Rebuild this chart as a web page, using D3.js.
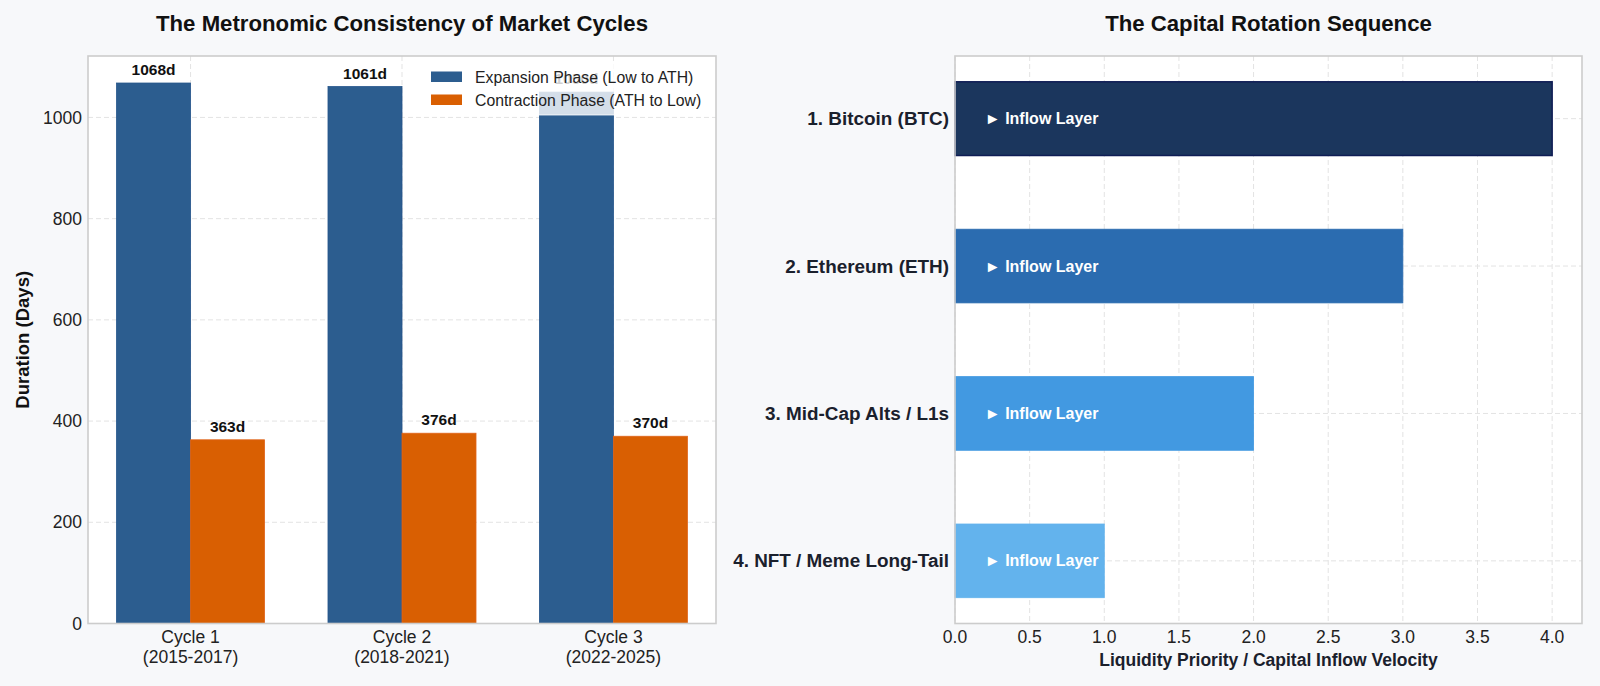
<!DOCTYPE html>
<html>
<head>
<meta charset="utf-8">
<script src="https://cdn.jsdelivr.net/npm/d3@7"></script>
<style>
  body { margin: 0; background: #f7f8fa; }
  svg { display: block; font-family: "Liberation Sans", Arial, sans-serif; }
  .grid line { stroke: #e3e3e3; stroke-dasharray: 5,3; stroke-width: 1; }
  .tick-lbl { font-size: 17.5px; fill: #222; }
</style>
</head>
<body>
<div id="svg-container"></div>
<script>
// ---------------- data ----------------
const cycles = ["Cycle 1\n(2015-2017)", "Cycle 2\n(2018-2021)", "Cycle 3\n(2022-2025)"];
const expansionDays = [1068, 1061, 1050];
const contractionDays = [363, 376, 370];
const yTicksLeft = [0, 200, 400, 600, 800, 1000];

const layers = ["1. Bitcoin (BTC)", "2. Ethereum (ETH)", "3. Mid-Cap Alts / L1s", "4. NFT / Meme Long-Tail"];
const inflowPriority = [4, 3, 2, 1];
const layerColors = ["#1b365d", "#2b6cb0", "#4299e1", "#63b3ed"];
const xTicksRight = [0, 0.5, 1, 1.5, 2, 2.5, 3, 3.5, 4];

const width = 1600, height = 686;
const svg = d3.select("#svg-container").append("svg")
  .attr("width", width).attr("height", height);

svg.append("rect").attr("width", width).attr("height", height).attr("fill", "#f7f8fa");

////////////////////////////////////////////////////////////////////
///////////////////////////  Left chart  ///////////////////////////
const L = { left: 88, right: 716, top: 56, bottom: 623.5 };
const barW = 0.35;

const xL = d3.scaleLinear().domain([-0.485, 2.485]).range([L.left, L.right]);
const yL = d3.scaleLinear().domain([0, 1068 * 1.05]).range([L.bottom, L.top]);

const gL = svg.append("g");
gL.append("rect")
  .attr("x", L.left).attr("y", L.top)
  .attr("width", L.right - L.left).attr("height", L.bottom - L.top)
  .attr("fill", "#fff");

// grid
const gridL = gL.append("g").attr("class", "grid");
gridL.selectAll(".h").data(yTicksLeft).enter().append("line")
  .attr("x1", L.left).attr("x2", L.right)
  .attr("y1", (d) => yL(d)).attr("y2", (d) => yL(d));
gridL.selectAll(".v").data(cycles).enter().append("line")
  .attr("x1", (d, i) => xL(i)).attr("x2", (d, i) => xL(i))
  .attr("y1", L.top).attr("y2", L.bottom);

// bars
gL.selectAll(".exp").data(expansionDays).enter().append("rect")
  .attr("x", (d, i) => xL(i - barW))
  .attr("y", (d) => yL(d))
  .attr("width", xL(barW) - xL(0))
  .attr("height", (d) => yL(0) - yL(d))
  .attr("fill", "#2c5d8f")
  .attr("stroke", "#24548a").attr("stroke-width", 0.8);

gL.selectAll(".con").data(contractionDays).enter().append("rect")
  .attr("x", (d, i) => xL(i))
  .attr("y", (d) => yL(d))
  .attr("width", xL(barW) - xL(0))
  .attr("height", (d) => yL(0) - yL(d))
  .attr("fill", "#d95f02")
  .attr("stroke", "#e0641a").attr("stroke-width", 0.8);

// value labels
const valLbl = (vals, off) => gL.selectAll(null).data(vals).enter().append("text")
  .attr("x", (d, i) => xL(i + off))
  .attr("y", (d) => yL(d) - 8)
  .attr("text-anchor", "middle")
  .style("font-size", "15.5px").style("font-weight", "bold").style("fill", "#111")
  .text((d) => d + "d");
valLbl(expansionDays, -barW / 2);
valLbl(contractionDays, barW / 2);

// axes frame
gL.append("rect")
  .attr("x", L.left).attr("y", L.top)
  .attr("width", L.right - L.left).attr("height", L.bottom - L.top)
  .attr("fill", "none").attr("stroke", "#cccccc").attr("stroke-width", 1.6);

// y ticks
gL.selectAll(".yt").data(yTicksLeft).enter().append("text")
  .attr("class", "tick-lbl")
  .attr("x", L.left - 6).attr("y", (d) => yL(d))
  .attr("dy", "0.35em").attr("text-anchor", "end")
  .text((d) => d);

// x ticks
const xt = gL.selectAll(".xt").data(cycles).enter().append("text")
  .attr("class", "tick-lbl")
  .attr("text-anchor", "middle")
  .attr("x", (d, i) => xL(i))
  .attr("y", L.bottom + 19);
xt.selectAll("tspan").data((d, i) => d.split("\n").map((s) => ({ s, i }))).enter().append("tspan")
  .attr("x", (d) => xL(d.i))
  .attr("dy", (d, j) => (j === 0 ? 0 : 20))
  .text((d) => d.s);

// y label
gL.append("text")
  .attr("transform", `translate(29, ${(L.top + L.bottom) / 2}) rotate(-90)`)
  .attr("text-anchor", "middle")
  .style("font-size", "18.5px").style("font-weight", "bold").style("fill", "#111")
  .text("Duration (Days)");

// title
gL.append("text")
  .attr("x", (L.left + L.right) / 2).attr("y", 31)
  .attr("text-anchor", "middle")
  .style("font-size", "22.2px").style("font-weight", "bold").style("fill", "#111")
  .text("The Metronomic Consistency of Market Cycles");

// legend
const leg = gL.append("g");
leg.append("rect")
  .attr("x", 419).attr("y", 62).attr("width", 290).attr("height", 53).attr("rx", 3)
  .attr("fill", "#fff").attr("fill-opacity", 0.8)
  .attr("stroke", "#fff").attr("stroke-opacity", 0.8);
const legItems = [
  { label: "Expansion Phase (Low to ATH)", color: "#2c5d8f" },
  { label: "Contraction Phase (ATH to Low)", color: "#d95f02" },
];
legItems.forEach((it, i) => {
  leg.append("rect")
    .attr("x", 431).attr("y", 71.5 + i * 23).attr("width", 31).attr("height", 10.5)
    .attr("fill", it.color);
  leg.append("text")
    .attr("x", 475).attr("y", 77 + i * 23).attr("dy", "0.35em")
    .style("font-size", "15.8px").style("fill", "#222")
    .text(it.label);
});

////////////////////////////////////////////////////////////////////
///////////////////////////  Right chart  //////////////////////////
const R = { left: 955, right: 1582, top: 56, bottom: 623.5 };
const xR = d3.scaleLinear().domain([0, 4.2]).range([R.left, R.right]);
const yR = d3.scaleLinear().domain([-0.425, 3.425]).range([R.top, R.bottom]);
const barH = 0.5;

const gR = svg.append("g");
gR.append("rect")
  .attr("x", R.left).attr("y", R.top)
  .attr("width", R.right - R.left).attr("height", R.bottom - R.top)
  .attr("fill", "#fff");

const gridR = gR.append("g").attr("class", "grid");
gridR.selectAll(".v").data(xTicksRight).enter().append("line")
  .attr("x1", (d) => xR(d)).attr("x2", (d) => xR(d))
  .attr("y1", R.top).attr("y2", R.bottom);
gridR.selectAll(".h").data(layers).enter().append("line")
  .attr("x1", R.left).attr("x2", R.right)
  .attr("y1", (d, i) => yR(i)).attr("y2", (d, i) => yR(i));

gR.selectAll(".bar").data(inflowPriority).enter().append("rect")
  .attr("x", xR(0))
  .attr("y", (d, i) => yR(i - barH / 2))
  .attr("width", (d) => xR(d) - xR(0))
  .attr("height", yR(barH) - yR(0))
  .attr("fill", (d, i) => layerColors[i])
  .attr("stroke", (d, i) => (i === 0 ? "#0f1d55" : layerColors[i]))
  .attr("stroke-width", (d, i) => (i === 0 ? 1.5 : 0.8));

gR.selectAll(".inflow").data(inflowPriority).enter().append("text")
  .attr("x", xR(0.2)).attr("y", (d, i) => yR(i))
  .attr("dy", "0.35em")
  .style("font-size", "16px").style("font-weight", "bold").style("fill", "#fff")
  .text("\u25BA Inflow Layer");

gR.append("rect")
  .attr("x", R.left).attr("y", R.top)
  .attr("width", R.right - R.left).attr("height", R.bottom - R.top)
  .attr("fill", "none").attr("stroke", "#cccccc").attr("stroke-width", 1.6);

// category labels
gR.selectAll(".cat").data(layers).enter().append("text")
  .attr("x", R.left - 6).attr("y", (d, i) => yR(i))
  .attr("dy", "0.35em").attr("text-anchor", "end")
  .style("font-size", "18.9px").style("font-weight", "bold").style("fill", "#1a202c")
  .text((d) => d);

// x ticks
gR.selectAll(".xt").data(xTicksRight).enter().append("text")
  .attr("class", "tick-lbl")
  .attr("x", (d) => xR(d)).attr("y", R.bottom + 19)
  .attr("text-anchor", "middle")
  .text((d) => d3.format(".1f")(d));

gR.append("text")
  .attr("x", (R.left + R.right) / 2).attr("y", 666)
  .attr("text-anchor", "middle")
  .style("font-size", "17.5px").style("font-weight", "bold").style("fill", "#1a202c")
  .text("Liquidity Priority / Capital Inflow Velocity");

gR.append("text")
  .attr("x", (R.left + R.right) / 2).attr("y", 31)
  .attr("text-anchor", "middle")
  .style("font-size", "22.2px").style("font-weight", "bold").style("fill", "#111")
  .text("The Capital Rotation Sequence");
</script>
</body>
</html>
